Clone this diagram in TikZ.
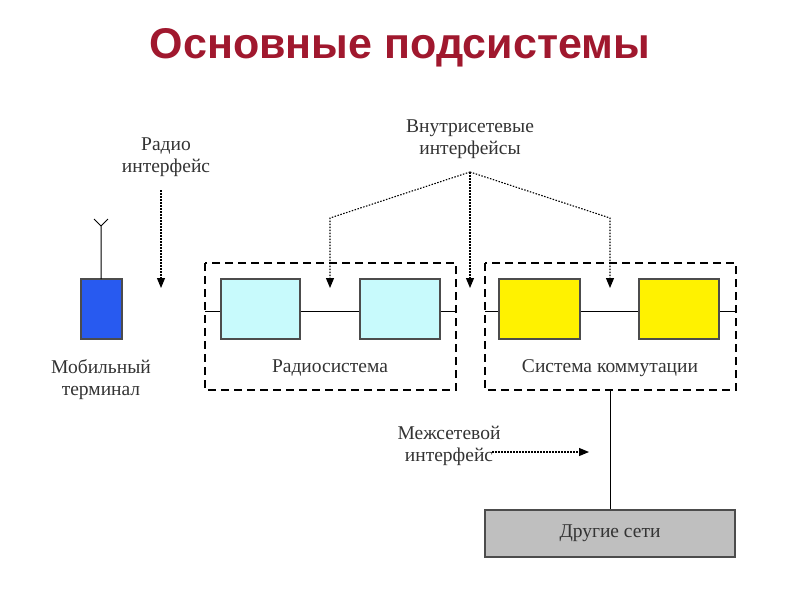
\documentclass[tikz,border=0pt]{standalone}
\usepackage{fontspec}
\setmainfont{Liberation Serif}
\newfontfamily\titlefont{Liberation Sans}
\usetikzlibrary{arrows.meta}
\definecolor{titlered}{HTML}{A0182E}
\definecolor{txt}{HTML}{333333}
\tikzset{
  lbl/.style={font=\fontsize{19.5}{22}\selectfont, text=txt, align=center},
  grp/.style={draw, line width=1.8pt, dash pattern=on 8pt off 5pt},
  blk/.style={draw=black!70, line width=1.3pt},
  ptr/.style={line width=1.1pt, dash pattern=on 1.5pt off 1.5pt, -{Triangle[length=10pt,width=8pt]}},
}
\begin{document}
\begin{tikzpicture}[x=1pt,y=-1pt, line width=1pt]
\useasboundingbox (0,0) rectangle (800,600);
\node[font=\titlefont\bfseries\fontsize{43}{48}\selectfont, text=titlered] (title) at (400,48) {Основные подсистемы};
% mobile
\draw[blk, fill={rgb,255:red,40;green,90;blue,240}] (81,279) rectangle (122,339);
\draw (101,279) -- (101,226) -- (94,219) (101,226) -- (108,219);
\node[lbl] (mt) at (101,380) {Мобильный\\терминал};
\node[lbl] (ri) at (166,157) {Радио\\интерфейс};
\coordinate (riend) at (161,288);
\draw[ptr] (161,190) -- (riend);
% radio system
\draw[grp] (205,263) rectangle (456,390);
\draw (205,311) -- (456,311);
\node[blk, fill={rgb,255:red,200;green,250;blue,252}, minimum width=79, minimum height=60, inner sep=0] (r1) at (260.5,309) {};
\node[blk, fill={rgb,255:red,200;green,250;blue,252}, minimum width=80, minimum height=60, inner sep=0] (r2) at (400,309) {};
\node[lbl] (rs) at (330,368) {Радиосистема};
% switching
\draw[grp] (485,263) rectangle (736,390);
\draw (485,311) -- (736,311);
\node[blk, fill=yellow, minimum width=81, minimum height=60, inner sep=0] (y1) at (539.5,309) {};
\node[blk, fill=yellow, minimum width=80, minimum height=60, inner sep=0] (y2) at (679,309) {};
\node[lbl] (sk) at (610,368) {Система коммутации};
% intra
\node[lbl] (vi) at (470,139) {Внутрисетевые\\интерфейсы};
\coordinate (c) at (470,172);
\draw[ptr] (c) -- (330,218) -- (330,288);
\draw[ptr] (c) -- (470,288);
\draw[ptr] (c) -- (610,218) -- (610,288);
% other networks
\node[draw=black!70, line width=1.3pt, fill=black!25, minimum width=250, minimum height=47, inner sep=0, lbl, text=black!80] (other) at (610,533.5) {Другие сети};
\draw (610,390) -- (other.north);
\node[lbl] (mi) at (449,446) {Межсетевой\\интерфейс};
\draw[ptr] (492,452) -- (589,452);
\end{tikzpicture}
\end{document}
